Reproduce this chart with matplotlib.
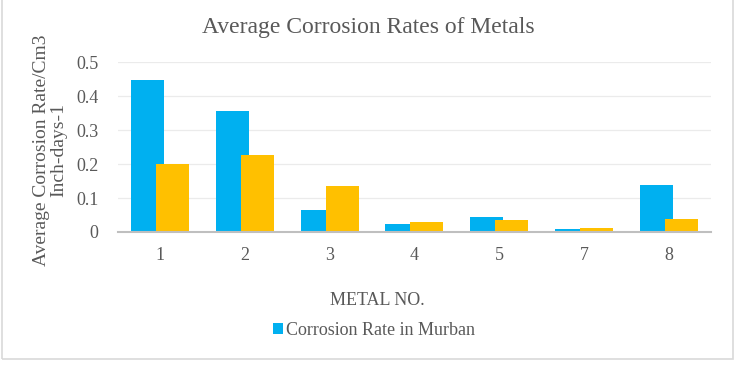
import matplotlib.pyplot as plt
from matplotlib.patches import Rectangle

metals = ["1", "2", "3", "4", "5", "7", "8"]
murban = [0.448, 0.357, 0.065, 0.023, 0.044, 0.008, 0.138]
other = [0.200, 0.226, 0.135, 0.028, 0.035, 0.011, 0.038]

plt.rcParams["font.family"] = ["Liberation Serif", "DejaVu Serif"]
txt = "#595959"

fig = plt.figure(figsize=(7.36, 3.70), dpi=100)
ax = fig.add_axes([0.160, 0.373, 0.806, 0.459])

x = list(range(len(metals)))
w = 0.39
ax.bar([i - 0.148 for i in x], murban, width=w, color="#00B0F0",
       label="Corrosion Rate in Murban", zorder=2)
ax.bar([i + 0.148 for i in x], other, width=w, color="#FFC000", zorder=3)

ax.set_xlim(-0.5, len(metals) - 0.5)
ax.set_ylim(0, 0.5)
ax.set_yticks([0, 0.1, 0.2, 0.3, 0.4, 0.5])
ax.set_yticklabels(["0", "0.1", "0.2", "0.3", "0.4", "0.5"])
ax.set_xticks(x)
ax.set_xticklabels(metals)
ax.tick_params(axis="both", length=0, colors=txt, labelsize=13)
ax.tick_params(axis="x", pad=11)
ax.tick_params(axis="y", pad=14)
ax.grid(axis="y", color="#ebebeb", linewidth=0.9, zorder=0)
ax.set_axisbelow(True)
for s in ["top", "right", "left"]:
    ax.spines[s].set_visible(False)
ax.spines["bottom"].set_color("#bfbfbf")
ax.spines["bottom"].set_linewidth(1.5)
ax.spines["bottom"].set_zorder(4)

fig.text(0.5, 0.925, "Average Corrosion Rates of Metals", ha="center",
         va="center", fontsize=17, color=txt)
fig.text(0.068, 0.595, "Average Corrosion Rate/Cm3\nInch-days-1", rotation=90,
         ha="center", va="center", fontsize=14, color=txt, linespacing=1.0)
fig.text(0.513, 0.188, "METAL NO.", ha="center", va="center", fontsize=13,
         color=txt)

leg = fig.legend(loc="center", bbox_to_anchor=(0.508, 0.108), frameon=False,
                 fontsize=13, handlelength=0.55, handleheight=0.55,
                 handletextpad=0.2, labelcolor=txt)

fig.patches.append(Rectangle((0.003, 0.03), 0.993, 0.975, transform=fig.transFigure,
                             fill=False, edgecolor="#d9d9d9", linewidth=1.2))

fig.savefig("out.png", dpi=100)
